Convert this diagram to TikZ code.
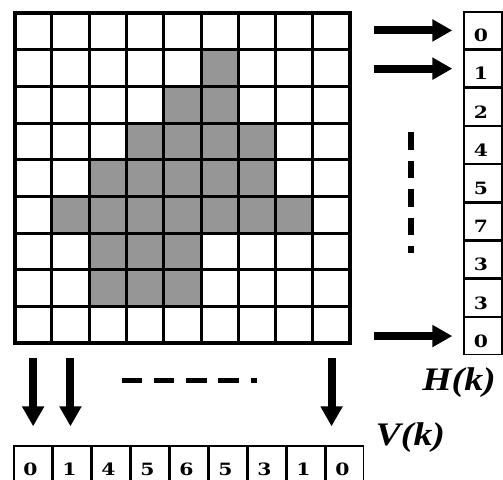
\documentclass[tikz,border=0pt]{standalone}
\usepackage{fontspec}
\usepackage{tikz}
\usetikzlibrary{arrows.meta, calc, positioning}
\newfontfamily\cellfont{DejaVu Serif}[FakeStretch=1.2]
\newfontfamily\projfont{Liberation Serif}[FakeStretch=1.15]
\definecolor{pixgray}{RGB}{150,150,150}
\tikzset{
  gridline/.style  = {line width=3bp, black},
  frameline/.style = {line width=4bp, black},
  pixel/.style     = {fill=pixgray},
  bin/.style       = {draw, line width=1.3bp, minimum width=38bp, minimum height=36.9bp, inner sep=0pt},
  vbin/.style      = {bin, minimum width=37.7bp, minimum height=37bp},
  count/.style     = {font=\cellfont\bfseries\fontsize{17}{17}\selectfont, inner sep=0pt},
  proj/.style      = {-{Triangle[length=20bp, width=21bp]}, line width=8bp},
  dots/.style      = {line width=5bp},
  projlbl/.style   = {font=\projfont\bfseries\itshape\fontsize{33}{33}\selectfont, inner sep=0pt},
}

\begin{document}
\begin{tikzpicture}[x=1bp, y=-1bp]
  \useasboundingbox (0,0) rectangle (503,480);
  \begin{scope}[shift={(14.5,13)}, x=37.3bp, y=-36.7bp]
    \foreach \r/\cs in {1/{5}, 2/{4,5}, 3/{3,4,5,6}, 4/{2,...,6}, 5/{1,...,7}, 6/{2,3,4}, 7/{2,3,4}}
      \foreach \c in \cs \fill[pixel] (\c,\r) rectangle ++(1,1);
    \foreach \i in {1,...,8} {
      \draw[gridline] (\i,0) -- (\i,9);
      \draw[gridline] (0,\i) -- (9,\i);
    }
    \draw[frameline] (0,0) rectangle (9,9);
    \foreach \c in {0,1,8} \coordinate (c\c) at (\c+0.5,9);
  \end{scope}
  \node[bin] (h0) at (483,30.45) {};
  \foreach \i [remember=\i as \j (initially 0)] in {1,...,8}
    \node[bin, below=0pt of h\j] (h\i) {};
  \foreach \i/\n in {0/0,1/1,2/2,3/4,4/5,5/7,6/3,7/3,8/0}
    \node[count] (hn\i) at ([xshift=-2bp, yshift=-5bp]h\i.center) {\n};
  \node[vbin] (v0) at (32.85,464.5) {};
  \foreach \i [remember=\i as \j (initially 0)] in {1,...,8}
    \node[vbin, right=0pt of v\j] (v\i) {};
  \foreach \i/\n in {0/0,1/1,2/4,3/5,4/6,5/5,6/3,7/1,8/0}
    \node[count] (vn\i) at ([xshift=-2.5bp, yshift=-5bp]v\i.center) {\n};
  \foreach \i in {0,1,8} {
    \draw[proj] ($(h\i.west)+(-89,0)$) -- ($(h\i.west)+(-11,0)$);
    \draw[proj] ($(c\i)+(0,15)$) -- ($(c\i |- v0.north)+(0,-19)$);
  }
  \draw[dots, dash pattern=on 20.3bp off 11.95bp] (121.7,380.7) -- (257.3,380.7);
  \draw[dots, line width=6bp, dash pattern=on 17.5bp off 11bp] (411,132.3) -- (411,252.7);
  \node[projlbl] (hlbl) at ($(h8.south)+(-24,27)$) {H(k)};
  \node[projlbl] (vlbl) at ($(v8.north east)+(46,-7.5)$) {V(k)};
\end{tikzpicture}
\end{document}
